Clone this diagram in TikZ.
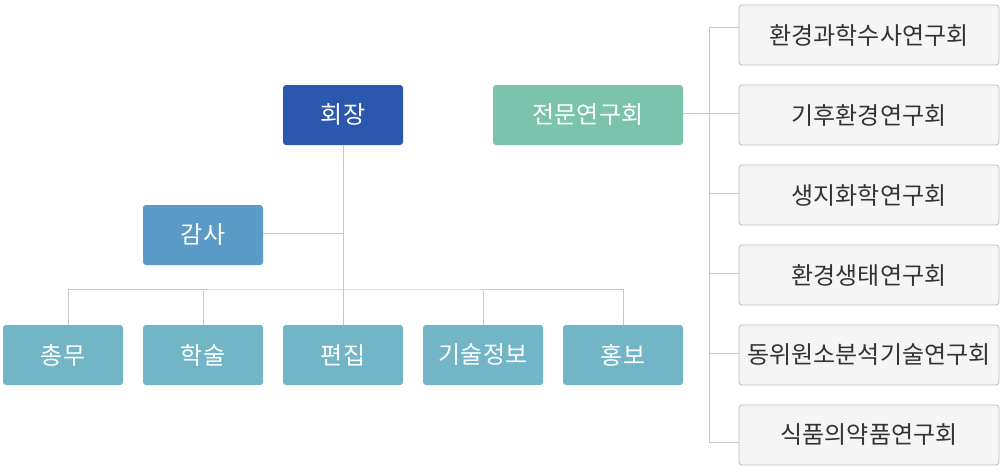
\documentclass[tikz,border=0pt]{standalone}
\usepackage{fontspec}
\setmainfont{Noto Sans CJK KR}
\usepackage{tikz}
\usetikzlibrary{calc}

\definecolor{chairblue}{HTML}{2B57AD}
\definecolor{auditblue}{HTML}{5A9BC8}
\definecolor{teamteal}{HTML}{72B5C6}
\definecolor{groupgreen}{HTML}{7BC3AC}
\definecolor{lightbox}{HTML}{F5F5F5}
\definecolor{boxedge}{HTML}{BDBDBD}
\definecolor{linegray}{HTML}{C8C8C8}
\definecolor{textdark}{HTML}{333333}

\tikzset{
	unit/.style={rounded corners=3pt, minimum width=120pt, minimum height=60pt,
		inner sep=0pt, text=white, font=\fontsize{24}{28}\selectfont},
	subgroup/.style={rounded corners=3pt, minimum width=260pt, minimum height=60pt,
		inner sep=0pt, fill=lightbox, draw=boxedge, line width=0.8pt,
		text=textdark, font=\fontsize{24}{28}\selectfont},
	link/.style={draw=linegray, line width=0.8pt}
}

\begin{document}
\begin{tikzpicture}[x=1pt, y=-1pt]
		%page frame
		\useasboundingbox (0,0) rectangle (1002,474);
		
		%top level
		\node [unit, fill=chairblue] (chair) at (343,115) {회장};
		\node [unit, fill=groupgreen, minimum width=190pt] (groups) at (588,115) {전문연구회};
		\node [unit, fill=auditblue] (audit) at (203,235) {감사};
		
		%departments
		\node [unit, fill=teamteal] (general) at (63,355) {총무};
		\node [unit, fill=teamteal] (academic) at (203,355) {학술};
		\node [unit, fill=teamteal] (editing) at (343,355) {편집};
		\node [unit, fill=teamteal] (techinfo) at (483,355) {기술정보};
		\node [unit, fill=teamteal] (pr) at (623,355) {홍보};
		
		%research groups
		\node [subgroup] (g1) at (869,35) {환경과학수사연구회};
		\node [subgroup] (g2) at (869,115) {기후환경연구회};
		\node [subgroup] (g3) at (869,195) {생지화학연구회};
		\node [subgroup] (g4) at (869,275) {환경생태연구회};
		\node [subgroup] (g5) at (869,355) {동위원소분석기술연구회};
		\node [subgroup] (g6) at (869,435) {식품의약품연구회};
		
		\coordinate (bus) at (343,289);
		\coordinate (spine top) at (709,27);
		\coordinate (spine bottom) at (709,442);
		
		%chair to departments
		\draw [link] (chair.south) -- (bus);
		\draw [link] ([yshift=2pt]audit.east) -- ([yshift=2pt]audit.east -| chair);
		\draw [link] ([xshift=5pt]general.north) |- (bus) -| (pr.north);
		\draw [link] (academic.north) -- (academic |- bus);
		\draw [link] (editing.north) -- (bus);
		\draw [link] (techinfo.north) -- (techinfo |- bus);
		
		%research group spine
		\draw [link] ([yshift=2pt]groups.east) -- ([yshift=2pt]g2.west);
		\draw [link] (g1.west |- spine top) -- (spine top) -- (spine bottom) -- (g6.west |- spine bottom);
		\foreach \g in {g3, g4, g5}
			\draw [link] ([yshift=2pt]spine top |- \g.west) -- ([yshift=2pt]\g.west);

	\end{tikzpicture}
\end{document}
